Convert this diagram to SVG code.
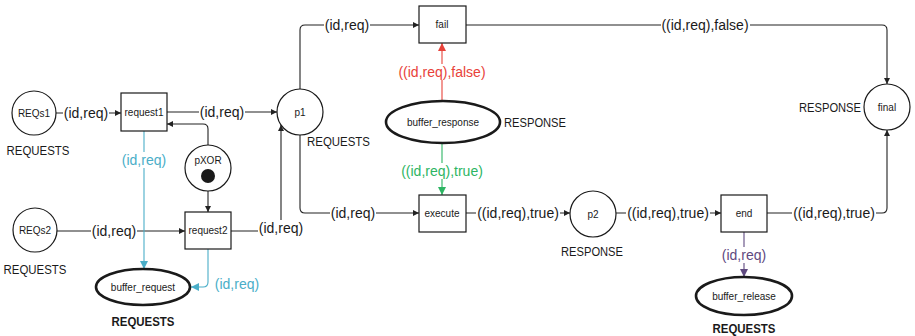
<svg xmlns="http://www.w3.org/2000/svg" width="915" height="336" viewBox="0 0 915 336">
<defs>
<style>
text{font-family:"Liberation Sans",Arial,sans-serif;fill:#1a1a1a}
.n{font-size:10px;text-anchor:middle}
.t{font-size:12.5px}
.tb{font-size:12.5px;font-weight:bold}
.l{font-size:14px;text-anchor:middle}
.node{fill:#fff;stroke:#1a1a1a;stroke-width:1.2}
.buf{fill:#fff;stroke:#1a1a1a;stroke-width:2.6}
.e{fill:none;stroke:#222;stroke-width:1.1}
.bg{fill:#fff}
</style>
<marker id="ak" markerUnits="userSpaceOnUse" markerWidth="7" markerHeight="6" refX="6" refY="3" orient="auto"><path d="M0,0 L6,3 L0,6 z" fill="#222"/></marker>
<marker id="ar" markerUnits="userSpaceOnUse" markerWidth="9" markerHeight="8" refX="8" refY="4" orient="auto"><path d="M0,0 L8,4 L0,8 z" fill="#e8423a"/></marker>
<marker id="ag" markerUnits="userSpaceOnUse" markerWidth="9" markerHeight="8" refX="8" refY="4" orient="auto"><path d="M0,0 L8,4 L0,8 z" fill="#2db563"/></marker>
<marker id="ab" markerUnits="userSpaceOnUse" markerWidth="9" markerHeight="8" refX="8" refY="4" orient="auto"><path d="M0,0 L8,4 L0,8 z" fill="#4aaec8"/></marker>
<marker id="ap" markerUnits="userSpaceOnUse" markerWidth="9" markerHeight="8" refX="8" refY="4" orient="auto"><path d="M0,0 L8,4 L0,8 z" fill="#5f4a80"/></marker>
</defs>
<rect width="915" height="336" fill="#fff"/>
<g id="connectors">
<path class="e" d="M56,113 H121" marker-end="url(#ak)"/>
<path class="e" d="M167,112 H277" marker-end="url(#ak)"/>
<path class="e" d="M208,145 V129 Q208,124 203,124 H167" marker-end="url(#ak)"/>
<path class="e" d="M208,191 V212" marker-end="url(#ak)"/>
<path class="e" d="M57,231 H185" marker-end="url(#ak)"/>
<path class="e" d="M231,231 H276 Q281,231 281,226 V125" marker-end="url(#ak)"/>
<path class="e" d="M300,89 V30 Q300,25 305,25 H419" marker-end="url(#ak)"/>
<path class="e" d="M300,135 V208 Q300,213 305,213 H419" marker-end="url(#ak)"/>
<path class="e" d="M466,25 H882 Q887,25 887,30 V84" marker-end="url(#ak)"/>
<path class="e" d="M767,213 H882 Q887,213 887,208 V130" marker-end="url(#ak)"/>
<path class="e" d="M466,213 H570" marker-end="url(#ak)"/>
<path class="e" d="M616,213 H721" marker-end="url(#ak)"/>
<path d="M442,101 V43" fill="none" stroke="#e8423a" stroke-width="1.1" marker-end="url(#ar)"/>
<path d="M442,143 V195" fill="none" stroke="#2db563" stroke-width="1.1" marker-end="url(#ag)"/>
<path d="M744,232 V277" fill="none" stroke="#5f4a80" stroke-width="1.1" marker-end="url(#ap)"/>
<path d="M144,131 V269" fill="none" stroke="#4aaec8" stroke-width="1.1" marker-end="url(#ab)"/>
<path d="M208,249 V282 Q208,287 203,287 H191" fill="none" stroke="#4aaec8" stroke-width="1.1" marker-end="url(#ab)"/>
<rect class="bg" x="63" y="105" width="46" height="16"/>
<text class="l" x="86" y="118">(id,req)</text>
<rect class="bg" x="199" y="104" width="46" height="16"/>
<text class="l" x="222" y="117">(id,req)</text>
<rect class="bg" x="91" y="223" width="46" height="16"/>
<text class="l" x="114" y="236">(id,req)</text>
<rect class="bg" x="258" y="220" width="46" height="17"/>
<text class="l" x="281" y="233">(id,req)</text>
<rect class="bg" x="324" y="17" width="46" height="16"/>
<text class="l" x="347" y="30">(id,req)</text>
<rect class="bg" x="330" y="205" width="46" height="16"/>
<text class="l" x="353" y="218">(id,req)</text>
<rect class="bg" x="661" y="17" width="89" height="16"/>
<text class="l" x="705" y="30">((id,req),false)</text>
<rect class="bg" x="792" y="205" width="84" height="16"/>
<text class="l" x="834" y="218">((id,req),true)</text>
<rect class="bg" x="476" y="205" width="84" height="16"/>
<text class="l" x="518" y="218">((id,req),true)</text>
<rect class="bg" x="626" y="205" width="84" height="16"/>
<text class="l" x="668" y="218">((id,req),true)</text>
<rect class="bg" x="398" y="64" width="89" height="16"/>
<text class="l" x="442" y="77" style="fill:#e8423a">((id,req),false)</text>
<rect class="bg" x="400" y="163" width="84" height="16"/>
<text class="l" x="442" y="176" style="fill:#2db563">((id,req),true)</text>
<rect class="bg" x="721" y="247" width="46" height="16"/>
<text class="l" x="744" y="260" style="fill:#5f4a80">(id,req)</text>
<rect class="bg" x="121" y="152" width="46" height="16"/>
<text class="l" x="144" y="165" style="fill:#4aaec8">(id,req)</text>
<text class="l" x="237" y="289" style="fill:#4aaec8">(id,req)</text>
</g>
<g id="REQs1">
<circle class="node" cx="34" cy="113" r="22"/>
<text class="n" x="34" y="117">REQs1</text>
<text class="t" x="38" y="155" text-anchor="middle" textLength="63" lengthAdjust="spacingAndGlyphs">REQUESTS</text>
</g>
<g id="REQs2">
<circle class="node" cx="35" cy="230" r="22"/>
<text class="n" x="35" y="234">REQs2</text>
<text class="t" x="35" y="274" text-anchor="middle" textLength="63" lengthAdjust="spacingAndGlyphs">REQUESTS</text>
</g>
<g id="request1">
<rect class="node" x="121" y="93" width="46" height="38"/>
<text class="n" x="144" y="116">request1</text>
</g>
<g id="request2">
<rect class="node" x="185" y="212" width="46" height="37"/>
<text class="n" x="208" y="234">request2</text>
</g>
<g id="pXOR">
<circle class="node" cx="208" cy="168" r="23"/>
<text class="n" x="208" y="164">pXOR</text>
<circle cx="208" cy="176" r="7" fill="#1a1a1a"/>
</g>
<g id="buffer_request">
<ellipse class="buf" cx="143" cy="287" rx="47" ry="18"/>
<text class="n" x="143" y="291">buffer_request</text>
<text class="tb" x="143" y="326" text-anchor="middle" textLength="63" lengthAdjust="spacingAndGlyphs">REQUESTS</text>
</g>
<g id="p1">
<circle class="node" cx="300" cy="112" r="23"/>
<text class="n" x="300" y="116">p1</text>
<text class="t" x="307" y="146" textLength="63" lengthAdjust="spacingAndGlyphs">REQUESTS</text>
</g>
<g id="fail">
<rect class="node" x="419" y="6" width="47" height="37"/>
<text class="n" x="442" y="28">fail</text>
</g>
<g id="buffer_response">
<ellipse class="buf" cx="443" cy="122" rx="57" ry="21"/>
<text class="n" x="443" y="126">buffer_response</text>
<text class="t" x="504" y="127" textLength="62" lengthAdjust="spacingAndGlyphs">RESPONSE</text>
</g>
<g id="execute">
<rect class="node" x="419" y="195" width="47" height="37"/>
<text class="n" x="442" y="217">execute</text>
</g>
<g id="p2">
<circle class="node" cx="593" cy="214" r="23"/>
<text class="n" x="593" y="218">p2</text>
<text class="t" x="592" y="256" text-anchor="middle" textLength="62" lengthAdjust="spacingAndGlyphs">RESPONSE</text>
</g>
<g id="end">
<rect class="node" x="721" y="195" width="46" height="37"/>
<text class="n" x="744" y="217">end</text>
</g>
<g id="buffer_release">
<ellipse class="buf" cx="744" cy="296" rx="48" ry="19"/>
<text class="n" x="744" y="300">buffer_release</text>
<text class="tb" x="744" y="333" text-anchor="middle" textLength="63" lengthAdjust="spacingAndGlyphs">REQUESTS</text>
</g>
<g id="final">
<circle class="node" cx="887" cy="107" r="23"/>
<text class="n" x="887" y="111">final</text>
<text class="t" x="861" y="112" text-anchor="end" textLength="62" lengthAdjust="spacingAndGlyphs">RESPONSE</text>
</g>
</svg>
